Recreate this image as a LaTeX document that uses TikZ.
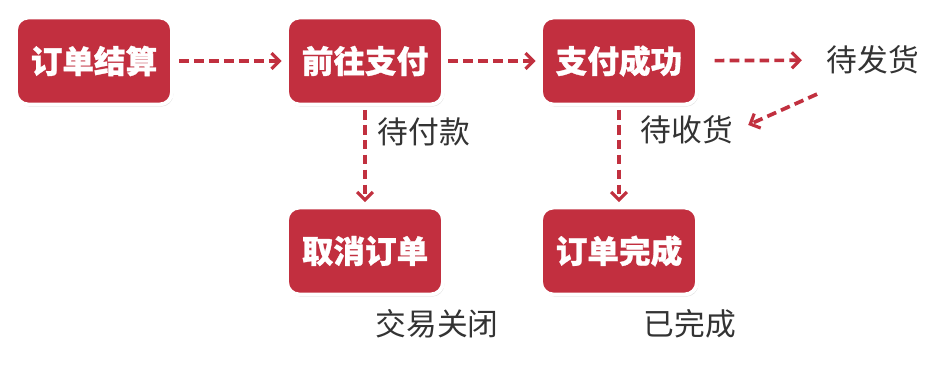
\documentclass[tikz,border=0pt]{standalone}
\usepackage{fontspec}
\setmainfont{Noto Sans CJK SC}[BoldFeatures={FakeBold=0.9}]
\usetikzlibrary{calc,arrows.meta,shadows}
\definecolor{boxred}{HTML}{C22F3F}
\definecolor{linered}{HTML}{C1303F}
\definecolor{labelgray}{HTML}{333333}

\begin{document}
\begin{tikzpicture}[
        x=0.02cm, y=-0.02cm,
        >={Straight Barb[length=4.5pt,width=9pt,line width=1.8pt]},
        state/.style={draw=white, line width=2.2pt, fill=boxred, rounded corners=7pt,
          minimum width=3.12cm, minimum height=1.74cm, text=white,
          font=\fontsize{18}{20}\selectfont\bfseries,
          drop shadow={opacity=0.25, shadow xshift=0.8pt, shadow yshift=-1.2pt}},
        note/.style={inner sep=2pt, text=labelgray, font=\fontsize{17.5}{20}\selectfont},
        flow/.style={->, linered, line width=2.1pt, dash pattern=on 5.5pt off 3pt}
      ]

      \useasboundingbox (0,0) rectangle (925,386);

      % states
      \node[state] (jiesuan) at (94,61) {订单结算};
      \node[state] (qianwang) at (365,61) {前往支付};
      \node[state] (chenggong) at (619,61) {支付成功};
      \node[state] (quxiao) at (365,251) {取消订单};
      \node[state] (wancheng) at (619,251) {订单完成};

      % status labels
      \node[note] (daifukuan) at (424,132) {待付款};
      \node[note] (daifahuo) at (873,60) {待发货};
      \node[note] (daishouhuo) at (687,130) {待收货};
      \node[note] (guanbi) at (437,324) {交易关闭};
      \node[note] (yiwancheng) at (690,324) {已完成};

      % transitions
      \draw[flow, shorten <=3pt, shorten >=2pt] (jiesuan) -- (qianwang);
      \draw[flow, shorten <=2pt, shorten >=2pt] (qianwang) -- (chenggong);
      \draw[flow, shorten <=9pt, shorten >=12pt] (chenggong) -- (daifahuo);
      \draw[flow, shorten >=7pt] ($(daifahuo.south west)+(-6,16)$) -- (daishouhuo.east);
      \draw[flow, shorten <=2pt, shorten >=2pt] (qianwang) -- (quxiao);
      \draw[flow, shorten <=2pt, shorten >=2pt] (chenggong) -- (wancheng);

    \end{tikzpicture}
\end{document}
